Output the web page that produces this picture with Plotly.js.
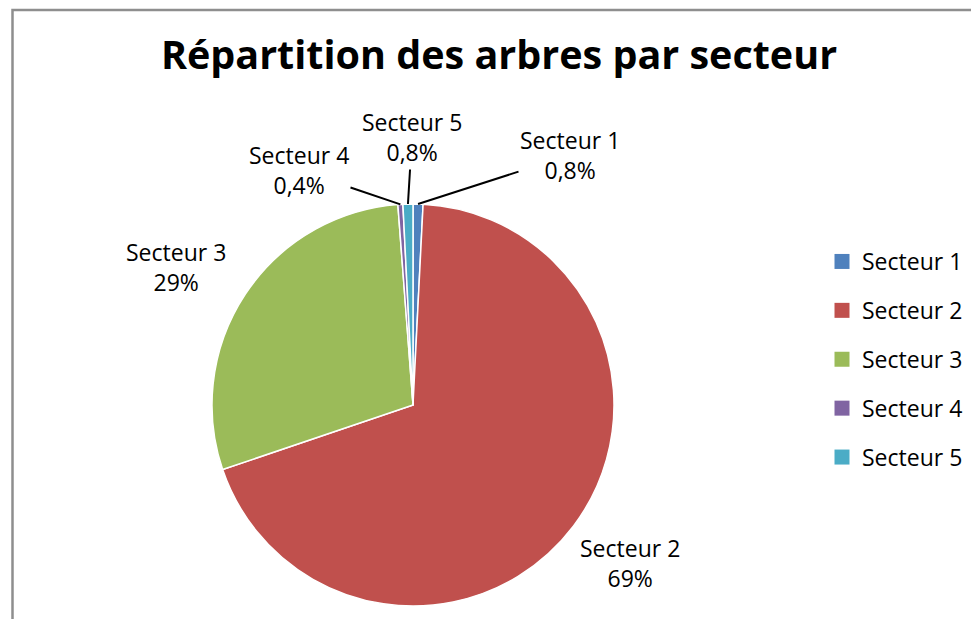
<!DOCTYPE html>
<html><head><meta charset="utf-8">
<script src="https://cdn.plot.ly/plotly-3.0.1.min.js"></script>
<style>html,body{margin:0;padding:0;background:#fff}#chart{width:971px;height:619px}</style>
</head><body><div id="chart"></div>
<script>
// ---- data ----
const categories = ['Secteur 1', 'Secteur 2', 'Secteur 3', 'Secteur 4', 'Secteur 5'];
const shares = [0.8, 69, 29, 0.4, 0.8];
const colors = ['#4F81BD', '#C0504D', '#9BBB59', '#8064A2', '#4BACC6'];
const chartTitle = 'Répartition des arbres par secteur';

// ---- layout geometry ----
const W = 971, H = 619;
const FONT = '"Open Sans", "Noto Sans", sans-serif';
const pieGeom = {cx: 413, cy: 405, r: 201};
const labelPos = [
  {x: 570, y: 155, leader: true},
  {x: 630, y: 563, leader: false},
  {x: 176, y: 267, leader: false},
  {x: 299, y: 170, leader: true},
  {x: 412, y: 137, leader: true}
];

const total = shares.reduce((a, b) => a + b, 0);
function fmtPct(v) {
  const p = v / total * 100;
  return (p < 1 ? p.toFixed(1) : Math.round(p).toString()).replace('.', ',') + '%';
}

let cum = 0;
const annotations = categories.map((c, i) => {
  const mid = (cum + shares[i] / 2) / total; cum += shares[i];
  const ang = mid * 2 * Math.PI;
  const tx = pieGeom.cx + pieGeom.r * Math.sin(ang);
  const ty = pieGeom.cy - pieGeom.r * Math.cos(ang);
  const lp = labelPos[i];
  const base = {text: c + '<br>' + fmtPct(shares[i]), xref: 'paper', yref: 'paper',
    font: {family: FONT, size: 23, color: '#000'}, align: 'center'};
  if (lp.leader) {
    return Object.assign(base, {x: tx / W, y: 1 - ty / H, showarrow: true, arrowhead: 0,
      arrowwidth: 2, arrowcolor: '#000', ax: lp.x - tx, ay: lp.y - ty, standoff: 0});
  }
  return Object.assign(base, {x: lp.x / W, y: 1 - lp.y / H, showarrow: false,
    xanchor: 'center', yanchor: 'middle'});
});

const pieTrace = {
  type: 'pie', labels: categories, values: shares, sort: false,
  direction: 'clockwise', rotation: 0,
  marker: {colors: colors, line: {color: '#ffffff', width: 1.5}},
  textinfo: 'none', hoverinfo: 'label+percent', showlegend: false,
  domain: {
    x: [(pieGeom.cx - pieGeom.r) / W, (pieGeom.cx + pieGeom.r) / W],
    y: [1 - (pieGeom.cy + pieGeom.r) / H, 1 - (pieGeom.cy - pieGeom.r) / H]
  }
};

const legendTraces = categories.map((c, i) => ({
  type: 'scatter', x: [null], y: [null], mode: 'markers', name: c,
  legendgroup: 'g' + i, hoverinfo: 'skip',
  marker: {symbol: 'square', size: 15, color: colors[i]}
}));

const layout = {
  width: W, height: H,
  margin: {l: 0, r: 0, t: 0, b: 0},
  paper_bgcolor: '#ffffff', plot_bgcolor: 'rgba(0,0,0,0)',
  font: {family: FONT, color: '#000'},
  xaxis: {visible: false}, yaxis: {visible: false},
  title: {text: chartTitle, x: 499 / W, xanchor: 'center', xref: 'container',
    y: 1 - 55 / H, yanchor: 'middle', yref: 'container',
    font: {family: FONT, size: 39.5, color: '#000', weight: 'bold'}},
  showlegend: true,
  legend: {x: 822 / W, xanchor: 'left', y: 1 - 240 / H, yanchor: 'top',
    font: {family: FONT, size: 23, color: '#000'}, tracegroupgap: 16,
    bgcolor: 'rgba(0,0,0,0)', itemclick: false, itemdoubleclick: false},
  annotations: annotations,
  shapes: [{type: 'rect', xref: 'paper', yref: 'paper', x0: 12.5 / W, x1: 1.1,
    y0: -0.1, y1: 1 - 10 / H, line: {color: '#8E8E8E', width: 2.5},
    fillcolor: 'rgba(0,0,0,0)', layer: 'below'}]
};

Plotly.newPlot('chart', [pieTrace].concat(legendTraces), layout, {displayModeBar: false});
</script>
</body></html>
